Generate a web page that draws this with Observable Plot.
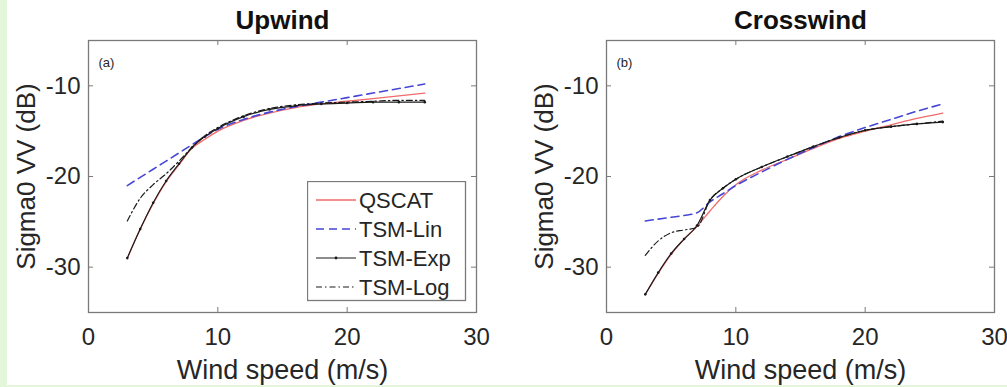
<!DOCTYPE html>
<html><head><meta charset="utf-8">
<script src="https://cdn.jsdelivr.net/npm/d3@7"></script>
<script src="https://cdn.jsdelivr.net/npm/@observablehq/plot@0.6"></script>
<style>
body{margin:0;background:#fff;}
#wrap{position:relative;width:1007px;height:387px;background:#fff;overflow:hidden;font-family:"Liberation Sans",Arial,sans-serif;}
.strip-left{position:absolute;left:0;top:0;width:7px;height:387px;background:#e4f6da;}
.strip-bottom{position:absolute;left:0;top:385px;width:1007px;height:2px;background:#e4f6da;}
.panel{position:absolute;top:0;}
.legend{position:absolute;}
</style></head><body>
<div id="wrap">
  <div class="strip-left"></div>
  <div class="strip-bottom"></div>
  <div id="left" class="panel" style="left:0px"></div>
  <div id="right" class="panel" style="left:500px"></div>
  <div id="legend" class="legend" style="left:307px;top:181px"></div>
</div>
<script>
// ---------- data ----------
const windSpeed = [3,4,5,6,7,8,9,10,12,14,16,18,20,22,24,26];
const seriesNames = ["QSCAT","TSM-Lin","TSM-Exp","TSM-Log"];

const upQSCAT = [-29.0,-25.8,-23.0,-20.6,-18.7,-16.9,-15.9,-15.0,-13.8,-13.0,-12.4,-12.0,-11.7,-11.4,-11.1,-10.8];
const upLin   = [-21.0,-20.1,-19.2,-18.3,-17.4,-16.5,-15.6,-14.8,-13.7,-12.9,-12.3,-11.8,-11.3,-10.8,-10.3,-9.8];
const upExp   = [-29.0,-25.8,-22.9,-20.5,-18.6,-16.8,-15.6,-14.7,-13.4,-12.6,-12.2,-12.0,-11.9,-11.8,-11.8,-11.8];
const upLog   = [-24.9,-22.4,-20.9,-19.7,-18.3,-16.8,-15.5,-14.6,-13.3,-12.5,-12.1,-11.9,-11.8,-11.7,-11.6,-11.6];

const crossQSCAT = [-33.0,-30.7,-28.6,-26.9,-25.5,-23.8,-22.2,-20.9,-19.3,-18.1,-16.9,-15.8,-15.0,-14.3,-13.6,-13.0];
const crossLin   = [-24.9,-24.7,-24.5,-24.3,-24.0,-22.8,-21.9,-21.0,-19.5,-18.1,-16.8,-15.6,-14.6,-13.7,-12.8,-12.0];
const crossExp   = [-33.0,-30.6,-28.5,-26.9,-25.4,-22.6,-21.3,-20.3,-18.95,-17.8,-16.7,-15.7,-14.9,-14.5,-14.2,-14.0];
const crossLog   = [-28.7,-27.1,-26.2,-25.9,-25.6,-22.6,-21.3,-20.3,-18.95,-17.8,-16.7,-15.7,-14.9,-14.5,-14.2,-13.9];

const xDomain = [0,30], yDomain = [-35,-5];
const xTicks = [0,10,20,30], yTicks = [-30,-20,-10];

// ---------- styles ----------
const styles = {
  "QSCAT":   {stroke:"#f26a6a", strokeWidth:1.3, dash:null},
  "TSM-Lin": {stroke:"#4646d6", strokeWidth:1.6, dash:"8,5"},
  "TSM-Exp": {stroke:"#1a1a1a", strokeWidth:1.2, dash:null},
  "TSM-Log": {stroke:"#1a1a1a", strokeWidth:1.2, dash:"6,3,1.5,3"}
};
const textColor = "#262626", frameColor = "#7a7a7a";
const font = "'Liberation Sans', Arial, sans-serif";

function rows(arrs){
  return seriesNames.map((s,i)=>windSpeed.map((x,j)=>({x, y:arrs[i][j], s})));
}

function panel({title, tag, data, width, marginLeft, marginRight}){
  const height = 387, marginTop = 40, marginBottom = 75;
  const kx = (width - marginLeft - marginRight)/(xDomain[1]-xDomain[0]);
  const ky = (height - marginTop - marginBottom)/(yDomain[1]-yDomain[0]);
  const tl = 5; // inward tick length px
  const fmt = d => String(d);
  const marks = [
    Plot.frame({stroke: frameColor, strokeWidth: 1.3}),
    Plot.ruleX(xTicks, {x: d=>d, y1: yDomain[0], y2: yDomain[0] + tl/ky, stroke: frameColor}),
    Plot.ruleX(xTicks, {x: d=>d, y1: yDomain[1], y2: yDomain[1] - tl/ky, stroke: frameColor}),
    Plot.ruleY(yTicks, {y: d=>d, x1: xDomain[0], x2: xDomain[0] + tl/kx, stroke: frameColor}),
    Plot.ruleY(yTicks, {y: d=>d, x1: xDomain[1], x2: xDomain[1] - tl/kx, stroke: frameColor}),
    Plot.axisX({ticks: xTicks, tickSize: 0, tickPadding: 15, fontSize: 24, label: null, tickFormat: fmt, color: textColor}),
    Plot.axisY({ticks: yTicks, tickSize: 0, tickPadding: 8, fontSize: 24, label: null, tickFormat: fmt, color: textColor}),
    Plot.text([title], {frameAnchor: "top", lineAnchor: "middle", dy: -20, fontSize: 26, fontWeight: "bold", fill: "#111"}),
    Plot.text(["Sigma0 VV (dB)"], {frameAnchor: "left", textAnchor: "middle", lineAnchor: "middle", dx: -62, rotate: -90, fontSize: 26, fill: textColor}),
    Plot.text(["Wind speed (m/s)"], {frameAnchor: "bottom", lineAnchor: "middle", dy: 58, fontSize: 27, fill: textColor}),
    Plot.text([tag], {frameAnchor: "top-left", lineAnchor: "middle", dx: 10, dy: 22, fontSize: 13, textAnchor: "start", fill: textColor})
  ];
  data.forEach((d,i)=>{
    const st = styles[seriesNames[i]];
    marks.push(Plot.line(d, {x:"x", y:"y", stroke: st.stroke, strokeWidth: st.strokeWidth, strokeDasharray: st.dash, curve: "monotone-x"}));
    if (seriesNames[i] === "TSM-Exp") marks.push(Plot.dot(d, {x:"x", y:"y", r: 1.3, fill: st.stroke}));
  });
  return Plot.plot({
    width, height, marginTop, marginBottom, marginLeft, marginRight,
    style: {fontFamily: font, background: "transparent", color: textColor},
    x: {domain: xDomain},
    y: {domain: yDomain},
    marks
  });
}

document.getElementById("left").append(panel({
  title: "Upwind", tag: "(a)", data: rows([upQSCAT, upLin, upExp, upLog]),
  width: 500, marginLeft: 88, marginRight: 24
}));
document.getElementById("right").append(panel({
  title: "Crosswind", tag: "(b)", data: rows([crossQSCAT, crossLin, crossExp, crossLog]),
  width: 507, marginLeft: 106, marginRight: 13
}));

// ---------- legend ----------
const lg = d3.select("#legend").append("svg").attr("width", 160).attr("height", 121);
lg.append("rect").attr("x", 0.5).attr("y", 0.5).attr("width", 158).attr("height", 119)
  .attr("fill", "#fff").attr("stroke", frameColor).attr("stroke-width", 1.3);
seriesNames.forEach((s,i)=>{
  const st = styles[s];
  const y = 19 + i*29;
  lg.append("line").attr("x1", 9).attr("x2", 49).attr("y1", y).attr("y2", y)
    .attr("stroke", st.stroke).attr("stroke-width", st.strokeWidth)
    .attr("stroke-dasharray", st.dash);
  if (s === "TSM-Exp") lg.append("circle").attr("cx", 29).attr("cy", y).attr("r", 1.4).attr("fill", st.stroke);
  lg.append("text").attr("x", 52).attr("y", y).attr("dy", "0.35em")
    .attr("font-family", font).attr("font-size", 22).attr("fill", textColor).text(s);
});
</script>
</body></html>
